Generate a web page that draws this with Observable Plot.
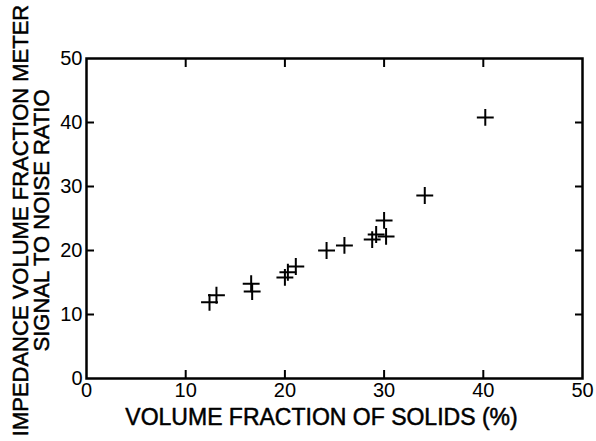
<!DOCTYPE html>
<html>
<head>
<meta charset="utf-8">
<script src="https://cdn.jsdelivr.net/npm/d3@7"></script>
<script src="https://cdn.jsdelivr.net/npm/@observablehq/plot@0.6"></script>
<style>
  html, body { margin: 0; padding: 0; background: #fff; }
  #chart svg { display: block; }
</style>
</head>
<body>
<div id="chart"></div>
<script>
// Volume fraction of solids (%)
const volumeFraction = [12.4, 13.1, 16.6, 16.7, 20.0, 20.3, 21.1, 24.2, 26.0, 28.8, 29.2, 30.0, 30.2, 34.1, 40.2];
// Signal to noise ratio
const snRatio = [11.9, 13.0, 14.8, 13.6, 15.8, 16.6, 17.5, 20.0, 20.8, 21.7, 22.5, 24.7, 22.2, 28.6, 40.8];
const xTicks = [0, 10, 20, 30, 40, 50];
const yTicks = [0, 10, 20, 30, 40, 50];
const xTitle = "VOLUME FRACTION OF SOLIDS (%)";
const yTitleLines = ["IMPEDANCE VOLUME FRACTION METER", "SIGNAL TO NOISE RATIO"];

const points = volumeFraction.map((x, i) => ({x, y: snRatio[i]}));
const font = "Liberation Sans, Arial, Helvetica, sans-serif";

const chart = Plot.plot({
  width: 596,
  height: 441,
  marginLeft: 86,
  marginRight: 14,
  marginTop: 58,
  marginBottom: 63,
  style: {fontFamily: font, color: "#000", background: "#fff"},
  x: {domain: [0, 50]},
  y: {domain: [0, 50]},
  marks: [
    Plot.frame({stroke: "#000", strokeWidth: 2.5}),
    // inward ticks on all four sides
    Plot.axisX(xTicks.slice(1, -1), {anchor: "bottom", tickSize: -8, strokeWidth: 2, text: null, label: null}),
    Plot.axisX(xTicks.slice(1, -1), {anchor: "top", tickSize: -8, strokeWidth: 2, text: null, label: null}),
    Plot.axisY(yTicks.slice(1, -1), {anchor: "left", tickSize: -8, strokeWidth: 2, text: null, label: null}),
    Plot.axisY(yTicks.slice(1, -1), {anchor: "right", tickSize: -8, strokeWidth: 2, text: null, label: null}),
    // tick labels
    Plot.axisX(xTicks, {anchor: "bottom", tickSize: 0, tickPadding: 4, fontSize: 20, label: null}),
    Plot.axisY(yTicks, {anchor: "left", tickSize: 0, tickPadding: 4, fontSize: 20, label: null}),
    // axis titles
    Plot.text([xTitle], {frameAnchor: "bottom", text: d => d, fontSize: 23, lineAnchor: "bottom", dy: 46, dx: -13, fill: "#000", stroke: "#000", strokeWidth: 0.5}),
    Plot.text([yTitleLines.join("\n")], {frameAnchor: "left", text: d => d, rotate: -90, textAnchor: "middle", fontSize: 22, lineHeight: 0.95, lineAnchor: "middle", dx: -55, dy: 2, fill: "#000", stroke: "#000", strokeWidth: 0.5}),
    // data
    Plot.dot(points, {x: "x", y: "y", symbol: "plus", r: 5.5, stroke: "#000", strokeWidth: 2})
  ]
});
document.getElementById("chart").append(chart);
</script>
</body>
</html>
